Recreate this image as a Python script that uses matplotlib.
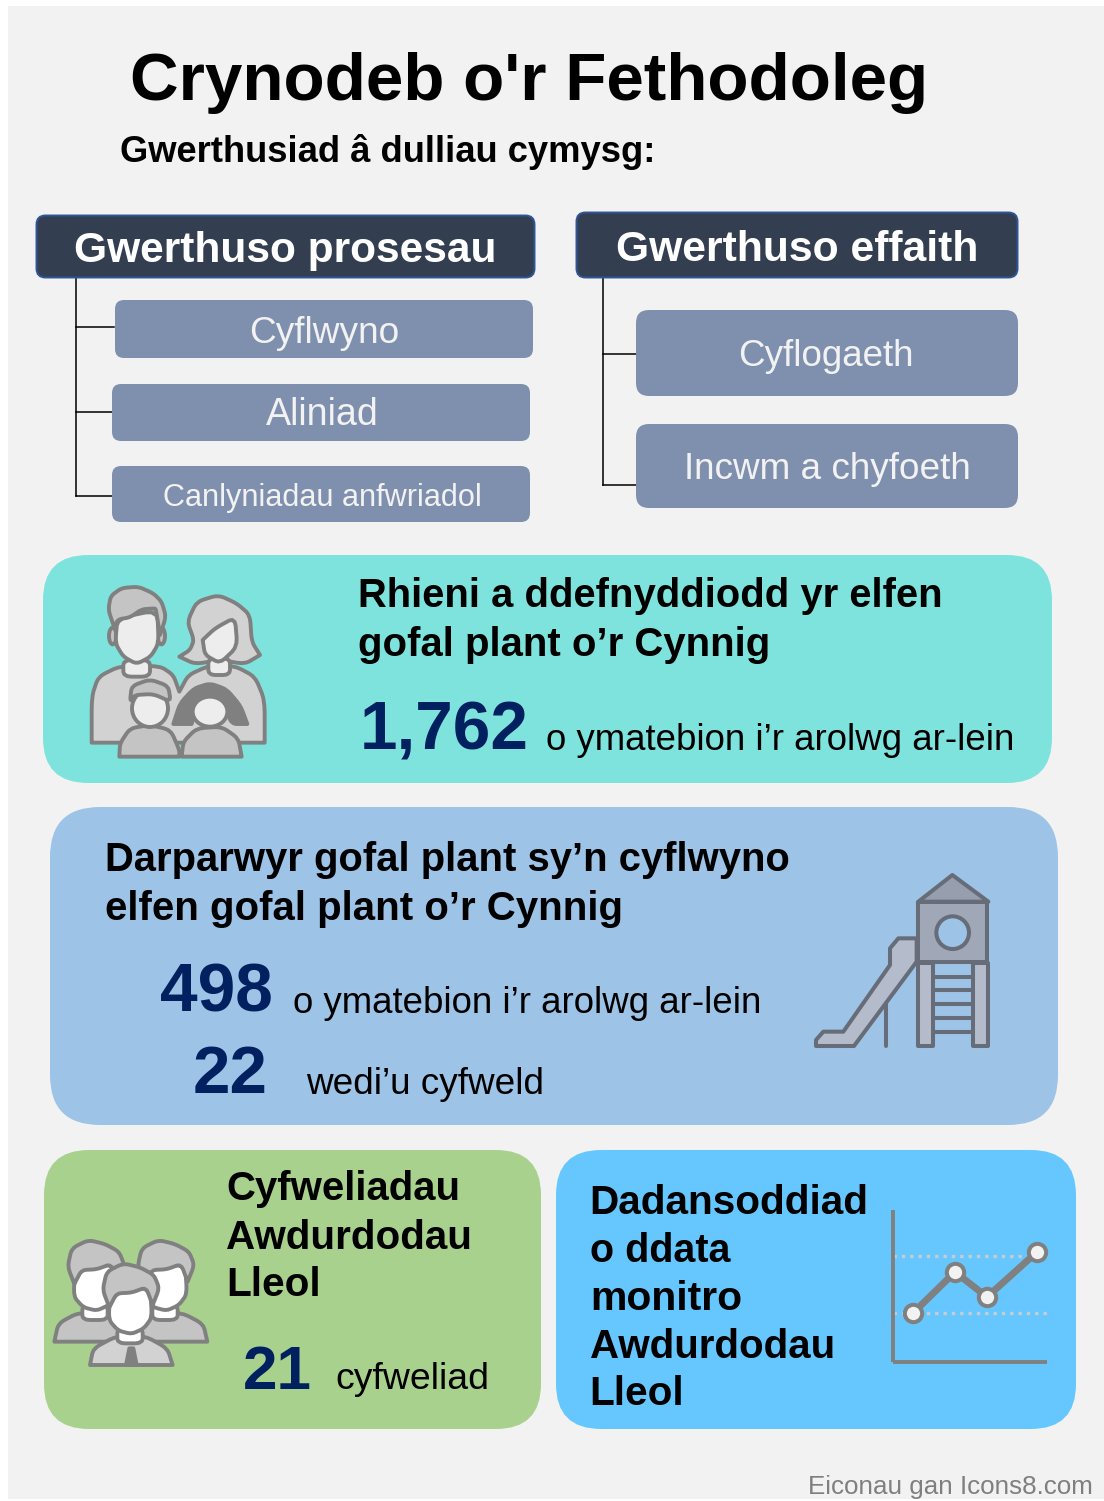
import numpy as np
import matplotlib
matplotlib.use("Agg")
import matplotlib.pyplot as plt
from matplotlib.font_manager import FontProperties
from matplotlib.patches import Ellipse, FancyBboxPatch, Polygon, Rectangle

W, H, DPI = 1104, 1501, 100

title = "Crynodeb o'r Fethodoleg"
subtitle = "Gwerthusiad â dulliau cymysg:"
head_left = "Gwerthuso prosesau"
head_right = "Gwerthuso effaith"
items_left = ["Cyflwyno", "Aliniad", "Canlyniadau anfwriadol"]
items_right = ["Cyflogaeth", "Incwm a chyfoeth"]
parents = ["Rhieni a ddefnyddiodd yr elfen", "gofal plant o’r Cynnig"]
providers = ["Darparwyr gofal plant sy’n cyflwyno", "elfen gofal plant o’r Cynnig"]
councils = ["Cyfweliadau", "Awdurdodau", "Lleol"]
monitoring = ["Dadansoddiad", "o ddata", "monitro", "Awdurdodau", "Lleol"]
survey_label = "o ymatebion i’r arolwg ar-lein"
interview_label = "wedi’u cyfweld"
council_label = "cyfweliad"
n_parents = "1,762"
n_providers = "498"
n_interviews = "22"
n_councils = "21"
credit = "Eiconau gan Icons8.com"

chart_x = [20, 62, 94, 144]
chart_y = [49, 90, 65, 110]
chart_grid = [49, 106]

NAVY = "#002060"
DARK = "#333F50"
SLATE = "#7F90AE"
TEAL = "#7FE3DD"
BLUE = "#9DC3E6"
GREEN = "#A9D18E"
SKY = "#66C7FF"
GREY = "#808080"

fig = plt.figure(figsize=(W / DPI, H / DPI), dpi=DPI, facecolor="white")
ax = fig.add_axes([0, 0, 1, 1])
ax.set_xlim(0, W)
ax.set_ylim(H, 0)
ax.axis("off")


def put(s, x0, x1, y, color="black", bold=False, z=5):
    # font size adjusted until the string spans x0..x1 in pixels
    fp = FontProperties(family="Liberation Sans", weight="bold" if bold else "normal")
    t = ax.text(x0, y, s, fontproperties=fp, fontsize=20, color=color, va="baseline", ha="left", zorder=z)
    for _ in range(3):
        t.set_fontsize(t.get_fontsize() * (x1 - x0) / t.get_window_extent(fig.canvas.get_renderer()).width)


def box(x0, y0, x1, y1, r, color, edge="none", lw=0, z=1):
    ax.add_patch(FancyBboxPatch((x0, y0), x1 - x0, y1 - y0, boxstyle=f"round,pad=0,rounding_size={r}",
                                fc=color, ec=edge, lw=lw, zorder=z))


def smooth(pts, n=2):
    # corner cutting, so the icon outlines come out rounded
    p = np.array(pts, dtype=float)
    for _ in range(n):
        q = np.roll(p, -1, axis=0)
        p = np.column_stack([0.82 * p + 0.18 * q, 0.18 * p + 0.82 * q]).reshape(-1, 2)
    return p


class Icon:
    # coordinates are in 3x zoomed pixels from an origin
    def __init__(self, ox, oy, edge=GREY, lw=2.8):
        self.ox, self.oy, self.edge, self.lw = ox, oy, edge, lw
        self.z = 3

    def xy(self, pts):
        return np.array(pts, dtype=float) / 3 + [self.ox, self.oy]

    def poly(self, pts, fc, round_it=True):
        p = smooth(pts) if round_it else pts
        ax.add_patch(Polygon(self.xy(p), closed=True, fc=fc, ec=self.edge, lw=self.lw, joinstyle="round", zorder=self.z))
        self.z += 0.01

    def oval(self, cx, cy, w, h, fc):
        ax.add_patch(Ellipse(self.xy([cx, cy]), w / 3, h / 3, fc=fc, ec=self.edge, lw=self.lw, zorder=self.z))
        self.z += 0.01

    def rect(self, x0, y0, x1, y1, fc):
        self.poly([(x0, y0), (x1, y0), (x1, y1), (x0, y1)], fc, round_it=False)

    def line(self, pts, lw=None):
        p = self.xy(pts)
        ax.plot(p[:, 0], p[:, 1], color=self.edge, lw=lw or self.lw, solid_capstyle="round", zorder=self.z)
        self.z += 0.01


def family_icon():
    ic = Icon(40, 560)
    ic.poly([(155, 548), (155, 548), (155, 410), (175, 350), (240, 318), (360, 318), (400, 345), (418, 395), (418, 395),
             (445, 345), (505, 318), (585, 318), (645, 350), (674, 420), (674, 548), (674, 548)], "#D2D2D2")
    ic.oval(218, 228, 22, 50, "#C4C4C4")
    ic.oval(364, 228, 22, 50, "#C4C4C4")
    ic.poly([(250, 300), (250, 350), (330, 350), (330, 300)], "#EDEDED")
    ic.poly([(232, 175), (226, 250), (250, 290), (290, 312), (332, 290), (356, 250), (352, 150)], "#EDEDED")
    ic.poly([(222, 200), (222, 200), (205, 150), (212, 108), (245, 84), (295, 80), (340, 100), (365, 125), (378, 170),
             (360, 225), (360, 225), (348, 150), (345, 145), (305, 148), (270, 172), (235, 178)], "#C4C4C4")
    ic.poly([(418, 290), (418, 290), (450, 270), (462, 240), (442, 185), (470, 125), (535, 105), (590, 130), (630, 165),
             (635, 245), (660, 285), (660, 285), (615, 312), (540, 300), (465, 312)], "#D2D2D2")
    ic.poly([(505, 295), (505, 345), (570, 345), (570, 295)], "#EDEDED")
    ic.poly([(488, 240), (488, 240), (525, 205), (585, 172), (592, 260), (540, 310), (495, 285)], "#EDEDED")
    ic.poly([(238, 590), (238, 590), (240, 550), (270, 505), (330, 495), (392, 510), (418, 570), (418, 590), (418, 590)], "#C4C4C4")
    ic.poly([(425, 590), (425, 590), (430, 545), (470, 505), (545, 500), (595, 535), (605, 590), (605, 590)], "#C4C4C4")
    ic.oval(330, 445, 108, 112, "#EDEDED")
    ic.poly([(270, 425), (275, 378), (330, 358), (385, 378), (392, 425), (340, 402), (285, 405)], "#C4C4C4")
    ic.poly([(400, 492), (400, 492), (420, 430), (462, 385), (510, 370), (560, 388), (602, 438), (622, 492), (622, 492),
             (575, 492), (555, 440), (470, 440), (455, 492), (455, 492)], GREY)
    ic.oval(510, 455, 104, 90, "#EDEDED")


def slide_icon():
    ic = Icon(780, 850, edge="#676D78", lw=2.9)
    for y in [380, 420, 462, 503, 545]:
        ic.line([(458, y), (580, y)])
    ic.line([(318, 450), (318, 588)])
    ic.poly([(410, 265), (355, 265), (330, 295), (330, 345), (190, 545), (130, 545), (108, 570), (108, 588), (222, 588),
             (410, 335)], "#B4BBCB", round_it=False)
    ic.rect(415, 340, 458, 588, "#B4BBCB")
    ic.rect(580, 340, 625, 588, "#B4BBCB")
    ic.rect(415, 155, 622, 335, "#A0A7B7")
    ic.poly([(415, 155), (517, 75), (625, 155)], "#979EAD", round_it=False)
    ic.oval(518, 248, 98, 98, BLUE)


def man(ic, cx, cy, fc_hair="#C4C4C4"):
    ic.poly([(cx - 38, cy + 55), (cx - 38, cy + 100), (cx + 38, cy + 100), (cx + 38, cy + 55)], "white")
    ic.poly([(cx - 60, cy - 50), (cx - 64, cy + 30), (cx - 35, cy + 62), (cx + 5, cy + 72), (cx + 42, cy + 55),
             (cx + 66, cy + 22), (cx + 60, cy - 70)], "white")
    ic.poly([(cx - 62, cy - 8), (cx - 62, cy - 8), (cx - 82, cy - 60), (cx - 70, cy - 115), (cx - 20, cy - 140), (cx + 30, cy - 128),
             (cx + 72, cy - 105), (cx + 88, cy - 65), (cx + 68, cy - 15), (cx + 68, cy - 15), (cx + 48, cy - 68),
             (cx + 5, cy - 52), (cx - 40, cy - 50)], fc_hair)


def staff_icon():
    ic = Icon(40, 1220)
    ic.poly([(43, 365), (43, 365), (55, 310), (115, 278), (215, 278), (270, 365), (270, 365)], "#C4C4C4")
    ic.poly([(250, 365), (250, 365), (320, 278), (425, 278), (490, 312), (502, 365), (502, 365)], "#C4C4C4")
    man(ic, 165, 200)
    man(ic, 375, 200)
    ic.poly([(150, 435), (150, 435), (160, 385), (230, 348), (315, 348), (382, 385), (398, 435), (398, 435)], "#D2D2D2")
    ic.poly([(258, 435), (268, 385), (280, 385), (290, 435)], GREY, round_it=False)
    man(ic, 270, 270)


def chart_icon():
    sub = fig.add_axes([893 / W, 1 - 1362 / H, 154 / W, 152 / H])
    sub.patch.set_alpha(0)
    sub.set_xlim(0, 154)
    sub.set_ylim(0, 152)
    for side in ["top", "right"]:
        sub.spines[side].set_visible(False)
    for side in ["left", "bottom"]:
        sub.spines[side].set_color(GREY)
        sub.spines[side].set_linewidth(2.8)
        sub.spines[side].set_capstyle("butt")
    sub.set_xticks([])
    sub.set_yticks(chart_grid)
    sub.set_yticklabels([])
    sub.tick_params(length=0)
    sub.grid(axis="y", color="#C9CCCE", lw=2.4, linestyle=(0, (1, 1.5)))
    sub.set_axisbelow(True)
    sub.plot(chart_x, chart_y, color=GREY, lw=5, marker="o", ms=12.5, mfc="#F2F2F2", mec=GREY, mew=2.9, clip_on=False)


# background
ax.add_patch(Rectangle((8, 6), W - 8, H - 8, fc="#F2F2F2", ec="none", zorder=0))

put(title, 130, 928, 100, bold=True)
put(subtitle, 120, 655, 162, bold=True)

# tree connectors
ax.plot([76, 76], [278, 496], color="black", lw=1.1, zorder=1)
for y in [327, 412, 496]:
    ax.plot([76, 114], [y, y], color="black", lw=1.1, zorder=1)
ax.plot([603, 603], [278, 485], color="black", lw=1.1, zorder=1)
for y in [354, 485]:
    ax.plot([603, 638], [y, y], color="black", lw=1.1, zorder=1)

box(36.5, 215.5, 534.5, 277.5, 9, DARK, edge="#2F5597", lw=1.4, z=2)
box(576.5, 212.5, 1017.5, 277.5, 9, DARK, edge="#2F5597", lw=1.4, z=2)
put(head_left, 74, 497, 262, color="white", bold=True)
put(head_right, 616, 978, 261, color="white", bold=True)

box(115, 300, 533, 358, 9, SLATE, z=2)
box(112, 384, 530, 441, 9, SLATE, z=2)
box(112, 466, 530, 522, 9, SLATE, z=2)
box(636, 310, 1018, 396, 13, SLATE, z=2)
box(636, 424, 1018, 508, 13, SLATE, z=2)
put(items_left[0], 249, 399, 343, color="#F2F2F2")
put(items_left[1], 266, 379, 425, color="#F2F2F2")
put(items_left[2], 163, 482, 506, color="#F2F2F2")
put(items_right[0], 738, 914, 366, color="#F2F2F2")
put(items_right[1], 684, 970, 479, color="#F2F2F2")

# panels
box(43, 555, 1052, 783, 45, TEAL)
box(50, 807, 1058, 1125, 50, BLUE)
box(44, 1150, 541, 1429, 45, GREEN)
box(556, 1150, 1076, 1429, 45, SKY)

put(parents[0], 358, 942, 607, bold=True)
put(parents[1], 358, 770, 656, bold=True)
put(n_parents, 360, 529, 750, color=NAVY, bold=True)
put(survey_label, 546, 1014, 750)

put(providers[0], 105, 790, 871, bold=True)
put(providers[1], 105, 623, 920, bold=True)
put(n_providers, 160, 273, 1012, color=NAVY, bold=True)
put(survey_label, 293, 761, 1013)
put(n_interviews, 193, 268, 1093, color=NAVY, bold=True)
put(interview_label, 306, 544, 1094)

put(councils[0], 226, 460, 1200, bold=True)
put(councils[1], 226, 472, 1249, bold=True)
put(councils[2], 226, 321, 1296, bold=True)
put(n_councils, 243, 312, 1389, color=NAVY, bold=True)
put(council_label, 335, 489, 1389)

put(monitoring[0], 589, 868, 1214, bold=True)
put(monitoring[1], 590, 731, 1262, bold=True)
put(monitoring[2], 590, 742, 1310, bold=True)
put(monitoring[3], 590, 835, 1358, bold=True)
put(monitoring[4], 589, 684, 1405, bold=True)

put(credit, 808, 1092, 1494, color="#7F7F7F")

family_icon()
slide_icon()
staff_icon()
chart_icon()

fig.savefig("out.png", dpi=DPI)
